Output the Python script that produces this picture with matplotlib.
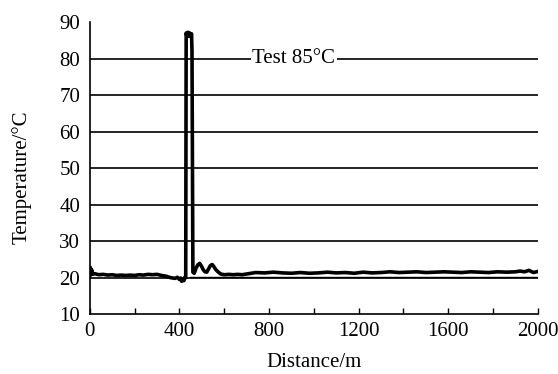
import matplotlib
matplotlib.use("Agg")
import matplotlib.pyplot as plt

plt.rcParams['font.family'] = ['Liberation Serif', 'DejaVu Serif']

# Main measured temperature trace
distance = [0, 2, 4, 8, 12, 20, 40, 60, 80, 100, 120, 140, 160, 180, 200, 220, 240, 260,
            280, 300, 320, 340, 360, 380, 390, 400, 405, 410, 415, 420, 425, 428,
            430, 434, 438, 442, 446, 450, 454, 456, 460, 466, 474, 482, 490, 498,
            506, 514, 522, 530, 538, 546, 554, 562, 572, 584, 600, 620, 640, 660, 680,
            700, 740, 780, 820, 860, 900, 940, 980, 1020, 1060, 1100, 1140, 1180, 1220,
            1260, 1300, 1340, 1380, 1420, 1460, 1500, 1540, 1580, 1620, 1660, 1700,
            1740, 1780, 1820, 1860, 1900, 1920, 1940, 1960, 1980, 2000]
temperature = [20.5, 22.8, 21.0, 22.2, 20.9, 21.1, 20.8, 20.9, 20.7, 20.8, 20.6, 20.7,
               20.6, 20.7, 20.6, 20.8, 20.7, 20.9, 20.8, 20.9, 20.6, 20.4, 20.0, 19.8,
               20.1, 19.5, 19.9, 19.0, 19.6, 19.2, 20.2, 20.0,
               87.0, 86.0, 87.2, 86.2, 87.0, 86.0, 86.8, 82.0, 21.5, 21.2, 22.6, 23.5,
               23.9, 23.2, 22.2, 21.6, 21.5, 22.4, 23.3, 23.6, 23.0, 22.2, 21.6, 21.0,
               20.8, 20.9, 20.8, 20.9, 20.8, 21.0, 21.4, 21.3, 21.5, 21.3, 21.2,
               21.4, 21.2, 21.3, 21.5, 21.3, 21.4, 21.2, 21.5, 21.3, 21.4, 21.6, 21.4,
               21.5, 21.6, 21.4, 21.5, 21.6, 21.5, 21.4, 21.6, 21.5, 21.4, 21.6, 21.5,
               21.6, 21.8, 21.6, 22.0, 21.4, 21.7]

# Lower reference trace after the heated section
ref_distance = [446, 2000]
ref_temperature = [20.2, 20.2]

grid_levels = [20, 30, 40, 50, 60, 70, 80]
x_ticks = [0, 400, 800, 1200, 1600, 2000]
x_minor_ticks = [200, 600, 1000, 1400, 1800]
y_ticks = [10, 20, 30, 40, 50, 60, 70, 80, 90]

fig = plt.figure(figsize=(5.58, 3.74), dpi=100)
ax = fig.add_axes([0.161, 0.160, 0.803, 0.781])

for g in grid_levels:
    ax.axhline(g, color='black', linewidth=1.2, zorder=1)

ax.plot(distance, temperature, color='black', linewidth=2.6, zorder=3)
ax.plot(ref_distance, ref_temperature, color='black', linewidth=1.0, zorder=3)

ax.text(910, 80, 'Test 85\u00b0C', ha='center', va='center', fontsize=15,
        bbox=dict(facecolor='white', edgecolor='none', pad=1), zorder=4)

ax.set_xlim(0, 2000)
ax.set_ylim(10, 90)
ax.set_xticks(x_ticks)
ax.set_xticks(x_minor_ticks, minor=True)
ax.set_yticks(y_ticks)
ax.tick_params(axis='x', which='both', direction='in', length=4, width=1)
ax.tick_params(axis='x', which='major', labelsize=15, pad=6)
ax.tick_params(axis='y', length=0, labelsize=15, pad=7)
for s in ['top', 'right']:
    ax.spines[s].set_visible(False)
for s in ['left', 'bottom']:
    ax.spines[s].set_linewidth(1.2)

ax.set_xlabel('Distance/m', fontsize=15, labelpad=8)
ax.set_ylabel('Temperature/\u00b0C', fontsize=15)
ax.yaxis.set_label_coords(-0.13, 0.47)

fig.savefig('out.png', dpi=100)
